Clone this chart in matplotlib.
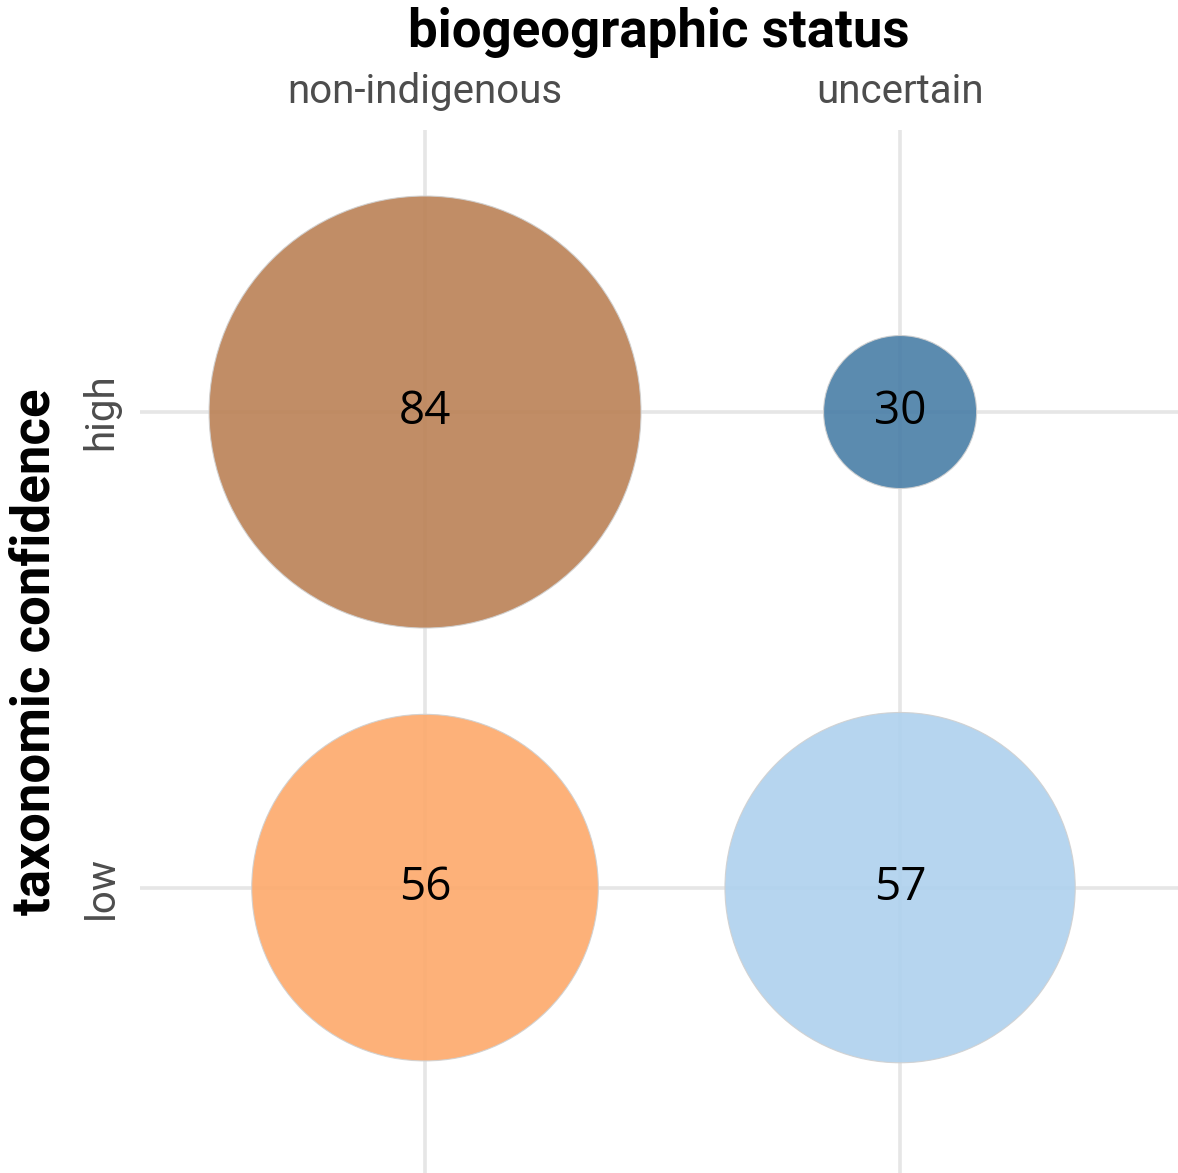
import numpy as np
import matplotlib
matplotlib.use("Agg")
import matplotlib.pyplot as plt

# datos
status = ["non-indigenous", "uncertain"]
confidence = ["high", "low"]
cell_status = ["non-indigenous", "uncertain", "non-indigenous", "uncertain"]
cell_conf = ["high", "high", "low", "low"]
counts = [84, 30, 56, 57]
colors = ["#bb8155", "#497ea7", "#fda96b", "#aed1ee"]

W, H, DPI = 1178, 1173, 100
fig = plt.figure(figsize=(W / DPI, H / DPI), dpi=DPI)
ax = fig.add_axes([140 / W, 0, 1 - 140 / W, 1 - 130 / H])

xpos = [status.index(s) + 1 for s in cell_status]
ypos = [confidence.index(c) + 1 for c in cell_conf]

# escala de tamano tipo area_pal: diametro en px
dmin, dmax = 153, 432
c = np.array(counts, float)
frac = (c - c.min()) / (c.max() - c.min())
diam_px = dmin + (dmax - dmin) * np.sqrt(frac)
sizes = (diam_px * 72 / DPI) ** 2

ax.set_axisbelow(True)
ax.grid(True, color="#e6e6e6", lw=2.6)
ax.scatter(xpos, ypos, s=sizes, c=colors, alpha=0.9, edgecolors="#d0d0d0", linewidths=0.8, zorder=2)
for x, y, n in zip(xpos, ypos, counts):
    ax.text(x, y, str(n), ha="center", va="center", fontsize=33, family="Open Sans", color="black", zorder=3)

ax.set_xlim(0.4, 2.585)
ax.set_ylim(2.6, 0.407)
ax.set_xticks([1, 2]); ax.set_xticklabels(status)
ax.set_yticks([1, 2]); ax.set_yticklabels(confidence, rotation=90, va="center")
ax.xaxis.tick_top()
ax.tick_params(length=0, labelsize=29, labelcolor="#4d4d4d", pad=14)
for lab in ax.get_xticklabels() + ax.get_yticklabels():
    lab.set_family("Roboto")
for sp in ax.spines.values():
    sp.set_visible(False)

ax.xaxis.set_label_position("top")
ax.set_xlabel("biogeographic status", fontsize=38, fontweight="bold", family="Roboto", va="center")
ax.set_ylabel("taxonomic confidence", fontsize=38, fontweight="bold", family="Roboto", va="center")
ax.xaxis.set_label_coords(0.5, 1 + (130 - 32) / 1043)
ax.yaxis.set_label_coords(-(140 - 35) / 1038, 0.5)

fig.savefig("out.png", dpi=DPI)
